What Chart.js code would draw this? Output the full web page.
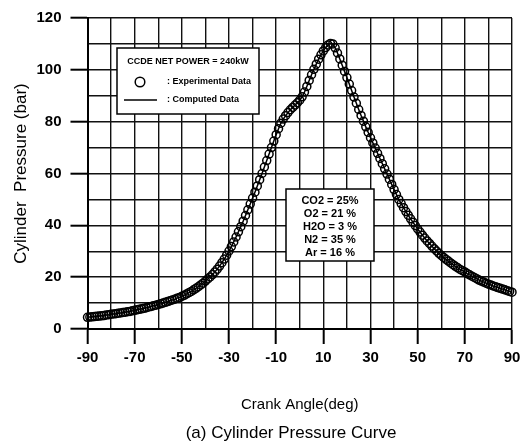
<!DOCTYPE html>
<html>
<head>
<meta charset="utf-8">
<script src="https://cdn.jsdelivr.net/npm/chart.js@4.4.1/dist/chart.umd.min.js"></script>
<style>
  html, body { margin: 0; padding: 0; background: #fff; }
  #wrap { width: 532px; height: 447px; }
</style>
</head>
<body>
<div id="wrap"><canvas id="pressureChart"></canvas></div>
<script>
const crankAngle = [
  -90, -89, -88, -87, -86, -85, -84, -83, -82, -81,
  -80, -79, -78, -77, -76, -75, -74, -73, -72, -71,
  -70, -69, -68, -67, -66, -65, -64, -63, -62, -61,
  -60, -59, -58, -57, -56, -55, -54, -53, -52, -51,
  -50, -49, -48, -47, -46, -45, -44, -43, -42, -41,
  -40, -39, -38, -37, -36, -35, -34, -33, -32, -31,
  -30, -29, -28, -27, -26, -25, -24, -23, -22, -21,
  -20, -19, -18, -17, -16, -15, -14, -13, -12, -11,
  -10, -9, -8, -7, -6, -5, -4, -3, -2, -1,
  0, 1, 2, 3, 4, 5, 6, 7, 8, 9,
  10, 11, 12, 13, 14, 15, 16, 17, 18, 19,
  20, 21, 22, 23, 24, 25, 26, 27, 28, 29,
  30, 31, 32, 33, 34, 35, 36, 37, 38, 39,
  40, 41, 42, 43, 44, 45, 46, 47, 48, 49,
  50, 51, 52, 53, 54, 55, 56, 57, 58, 59,
  60, 61, 62, 63, 64, 65, 66, 67, 68, 69,
  70, 71, 72, 73, 74, 75, 76, 77, 78, 79,
  80, 81, 82, 83, 84, 85, 86, 87, 88, 89,
  90
];
// cylinder pressure (bar), one reading per degree
const pressure = [
  4.5, 4.6, 4.7, 4.8, 4.9, 5.0, 5.1, 5.2, 5.4, 5.5,
  5.7, 5.8, 5.9, 6.1, 6.2, 6.4, 6.5, 6.7, 6.8, 7.0,
  7.2, 7.4, 7.6, 7.8, 8.0, 8.2, 8.5, 8.7, 9.0, 9.2,
  9.5, 9.7, 10.0, 10.3, 10.6, 10.9, 11.2, 11.5, 11.9, 12.2,
  12.6, 13.0, 13.5, 14.0, 14.5, 15.1, 15.7, 16.3, 17.0, 17.7,
  18.5, 19.3, 20.1, 21.0, 22.0, 23.1, 24.3, 25.6, 27.0, 28.5,
  30.1, 31.8, 33.6, 35.5, 37.5, 39.5, 41.6, 43.8, 46.0, 48.2,
  50.5, 52.8, 55.2, 57.6, 60.0, 62.5, 65.0, 67.5, 70.0, 72.5,
  75.0, 77.3, 79.4, 81.0, 82.3, 83.5, 84.6, 85.5, 86.4, 87.3,
  88.3, 89.6, 91.4, 93.6, 95.9, 98.1, 100.2, 102.2, 104.1, 105.8,
  107.3, 108.6, 109.6, 110.2, 110.0, 108.5, 106.5, 104.2, 101.8, 99.4,
  97.0, 94.5, 92.0, 89.5, 87.1, 84.7, 82.4, 80.2, 78.0, 75.9,
  73.8, 71.8, 69.8, 67.8, 65.8, 63.8, 61.8, 59.8, 57.8, 55.8,
  53.8, 51.9, 50.0, 48.4, 46.8, 45.3, 43.9, 42.5, 41.2, 39.9,
  38.6, 37.4, 36.2, 35.1, 34.0, 33.0, 32.0, 31.0, 30.1, 29.2,
  28.4, 27.6, 26.9, 26.2, 25.5, 24.8, 24.2, 23.6, 23.0, 22.5,
  22.0, 21.4, 20.9, 20.4, 19.9, 19.4, 18.9, 18.5, 18.1, 17.7,
  17.3, 17.0, 16.6, 16.3, 16.0, 15.7, 15.4, 15.1, 14.8, 14.5,
  14.2
];
const xTickLabels = [-90, -70, -50, -30, -10, 10, 30, 50, 70, 90];
const yTickLabels = [0, 20, 40, 60, 80, 100, 120];
const seriesNames = ['Experimental Data', 'Computed Data'];
const legendTitle = 'CCDE NET POWER = 240kW';
const gasLabels = ['CO2 = 25%', 'O2 = 21 %', 'H2O = 3 %', 'N2 = 35 %', 'Ar = 16 %'];

const FONT = '"Liberation Sans", Arial, Helvetica, sans-serif';
Chart.defaults.font.family = FONT;
Chart.defaults.color = '#000';

const points = crankAngle.map((a, i) => ({ x: a, y: pressure[i] }));

// legend boxes, axis caption
const notesPlugin = {
  id: 'notes',
  afterDraw(chart) {
    const ctx = chart.ctx;
    ctx.save();
    ctx.lineWidth = 1.5;
    ctx.strokeStyle = '#000';
    ctx.fillStyle = '#fff';

    // series legend
    ctx.fillRect(117, 48, 142, 66);
    ctx.strokeRect(117, 48, 142, 66);
    ctx.fillStyle = '#000';
    ctx.font = 'bold 9px ' + FONT;
    ctx.textBaseline = 'middle';
    ctx.textAlign = 'center';
    ctx.fillText(legendTitle, 188, 62);
    ctx.textAlign = 'left';
    ctx.beginPath();
    ctx.arc(140, 82, 4.8, 0, Math.PI * 2);
    ctx.stroke();
    ctx.fillText(': ' + seriesNames[0], 167, 82);
    ctx.beginPath();
    ctx.moveTo(124, 100);
    ctx.lineTo(157, 100);
    ctx.stroke();
    ctx.fillText(': ' + seriesNames[1], 167, 100);

    // gas composition box
    ctx.fillStyle = '#fff';
    ctx.fillRect(286, 189, 88, 72);
    ctx.strokeRect(286, 189, 88, 72);
    ctx.fillStyle = '#000';
    ctx.font = 'bold 11px ' + FONT;
    ctx.textAlign = 'center';
    gasLabels.forEach((t, i) => ctx.fillText(t, 330, 201 + i * 13));

    ctx.font = '17px ' + FONT;
    ctx.fillText('(a) Cylinder Pressure Curve', 291, 433);
    ctx.restore();
  }
};

new Chart(document.getElementById('pressureChart'), {
  type: 'scatter',
  data: {
    datasets: [
      {
        label: seriesNames[0],
        data: points,
        showLine: false,
        pointRadius: 4,
        pointBorderWidth: 1.5,
        pointBorderColor: '#000',
        pointBackgroundColor: 'rgba(0,0,0,0)',
        clip: 6
      },
      {
        label: seriesNames[1],
        data: points,
        showLine: true,
        borderColor: '#000',
        borderWidth: 1.5,
        pointRadius: 0,
        tension: 0
      }
    ]
  },
  options: {
    responsive: true,
    maintainAspectRatio: false,
    animation: false,
    layout: { padding: { left: 0, top: 13, right: 20, bottom: 29 } },
    plugins: {
      legend: { display: false },
      tooltip: { enabled: false }
    },
    scales: {
      x: {
        type: 'linear',
        min: -90,
        max: 90,
        ticks: {
          stepSize: 10,
          autoSkip: false,
          maxRotation: 0,
          padding: 5,
          font: { size: 15, weight: 'bold' },
          callback: v => xTickLabels.includes(v) ? String(v) : ''
        },
        grid: {
          color: '#111',
          lineWidth: 1.4,
          tickLength: 15,
          tickWidth: 2,
          tickColor: c => (c.tick && xTickLabels.includes(c.tick.value)) ? '#000' : 'rgba(0,0,0,0)'
        },
        border: { color: '#000', width: 2 },
        title: {
          display: true,
          text: 'Crank Angle(deg)',
          font: { size: 15 },
          padding: { top: 24, bottom: 4 }
        }
      },
      y: {
        min: 0,
        max: 120,
        ticks: {
          stepSize: 10,
          autoSkip: false,
          padding: 9,
          font: { size: 15, weight: 'bold' },
          callback: v => yTickLabels.includes(v) ? String(v) : ''
        },
        grid: {
          color: '#111',
          lineWidth: 1.4,
          tickLength: 17,
          tickWidth: 2,
          tickColor: c => (c.tick && yTickLabels.includes(c.tick.value)) ? '#000' : 'rgba(0,0,0,0)'
        },
        border: { color: '#000', width: 2 },
        title: {
          display: true,
          text: 'Cylinder  Pressure (bar)',
          font: { size: 17 },
          padding: { top: 11, bottom: 0 }
        },
        afterFit: s => { s.width = 87.5; }
      }
    }
  },
  plugins: [notesPlugin]
});
</script>
</body>
</html>
